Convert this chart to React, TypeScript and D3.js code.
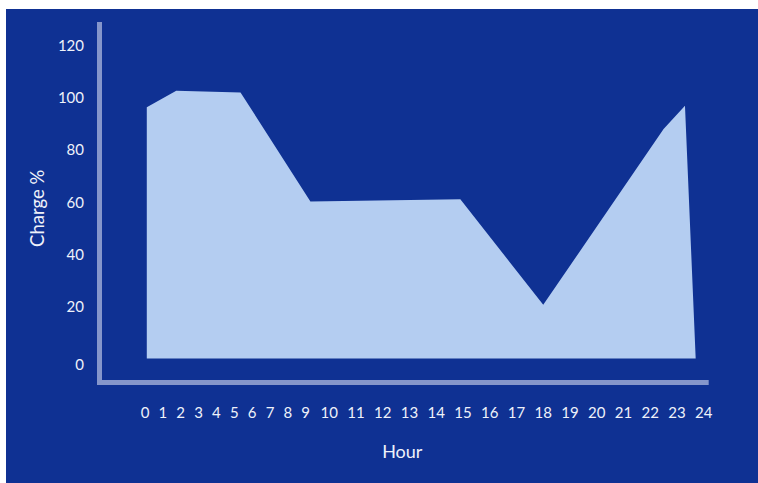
import React from "react";
import * as d3 from "d3";

const hours = [0.1, 1.75, 5.35, 9.2, 14.9, 18, 22.5, 23.3, 23.7];
const charge = [96, 102.3, 101.7, 60, 60.9, 20.5, 87.7, 96.6, 0];
const xTickLabels = d3.range(0, 25).map(String);
const yTicks = [0, 20, 40, 60, 80, 100, 120];

const W = 758;
const H = 483;

export default function App() {
  const x = d3.scaleLinear().domain([0, 9, 10, 24]).range([145, 305.7, 329.3, 703.7]);
  const y = d3.scaleLinear().domain([0, 120]).range([358.5, 44.5]);
  const data = hours.map((h, i) => ({ h, v: charge[i] }));
  const area = d3
    .area<{ h: number; v: number }>()
    .x((d) => x(d.h))
    .y0(y(0))
    .y1((d) => y(d.v));
  const font = "Lato, 'Noto Sans', sans-serif";
  const txt = "#eef1fa";
  const axisCol = "#8596cb";
  return (
    <svg
      width={W}
      height={H}
      style={{ position: "absolute", left: 0, top: 0, display: "block" }}
    >
      <rect x={0} y={0} width={W} height={H} fill="#ffffff" />
      <rect x={6} y={9} width={W - 6} height={H - 9} fill="#0f3193" />
      <path d={area(data) || ""} fill="#b4cdf1" />
      <line x1={99.5} x2={99.5} y1={22} y2={385} stroke={axisCol} strokeWidth={5} />
      <line x1={97} x2={708.7} y1={382.5} y2={382.5} stroke={axisCol} strokeWidth={5} />
      {yTicks.map((t) => (
        <text
          key={t}
          x={84}
          y={y(t) + (t === 0 ? 5 : 0)}
          textAnchor="end"
          dominantBaseline="central"
          fill={txt}
          fontFamily={font}
          fontSize={15}
        >
          {t}
        </text>
      ))}
      {xTickLabels.map((t) => (
        <text
          key={t}
          x={x(+t)}
          y={412}
          textAnchor="middle"
          dominantBaseline="central"
          fill={txt}
          fontFamily={font}
          fontSize={15}
        >
          {t}
        </text>
      ))}
      <text
        x={402.3}
        y={457.7}
        textAnchor="middle"
        fill={txt}
        fontFamily={font}
        fontSize={18}
      >
        Hour
      </text>
      <text
        transform="translate(44,208.3) rotate(-90)"
        textAnchor="middle"
        fill={txt}
        fontFamily={font}
        fontSize={18.5}
      >
        Charge %
      </text>
    </svg>
  );
}
